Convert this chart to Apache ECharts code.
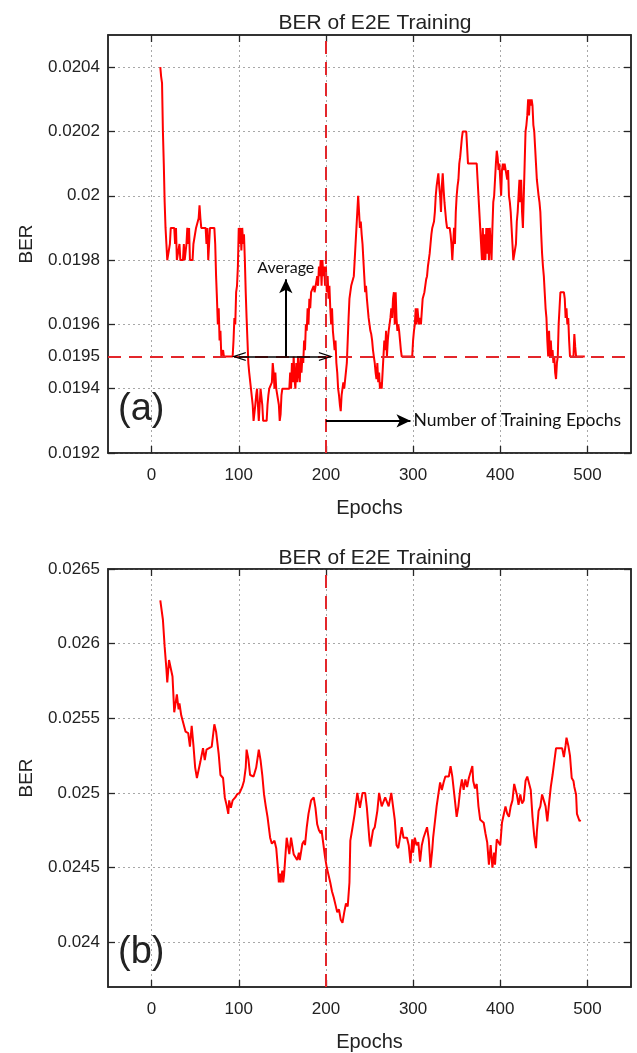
<!DOCTYPE html>
<html>
<head>
<meta charset="utf-8">
<script src="https://cdn.jsdelivr.net/npm/echarts@6/dist/echarts.min.js"></script>
<style>
html,body{margin:0;padding:0;background:#fff;}
#c{width:637px;height:1053px;}
</style>
</head>
<body>
<div id="c"></div>
<script>
// ---------- data ----------
var chartTitle = 'BER of E2E Training';
var xTicks = [0, 100, 200, 300, 400, 500];
var topYTicks = [0.0192, 0.0194, 0.0196, 0.0198, 0.02, 0.0202, 0.0204];
var topYLabels = [0.0192, 0.0194, 0.0195, 0.0196, 0.0198, 0.02, 0.0202, 0.0204];
var bottomYTicks = [0.024, 0.0245, 0.025, 0.0255, 0.026, 0.0265];

var averageBer = 0.0195;
var splitEpoch = 200;
var averageWindow = [100, 200];
var averageArrowEpoch = 154;
var averageArrowTip = 0.01974;
var trainArrowBer = 0.0193;
var trainArrowEnd = 297;

var topEpochs = [10,11,12,13,14,15,16,17,18,20,21,22,24,26,27,28,29,31,32,33,36,37,38,40,41,42,43,44,47,48,50,51,53,54,55,56,57,62,63,64,65,66,67,72,73,74,75,76,77,78,79,80,82,83,93,94,95,96,97,98,99,100,101,102,103,104,105,106,107,108,109,110,111,112,114,115,116,117,118,119,120,121,122,123,124,125,126,127,128,132,133,134,135,138,139,140,141,142,143,145,146,147,148,149,150,158,159,160,161,162,163,164,165,166,167,168,169,170,171,172,173,174,175,176,177,178,179,180,181,182,183,185,186,187,189,190,191,192,193,194,195,196,197,198,199,200,201,202,203,204,205,206,207,208,209,210,211,212,213,214,215,216,217,218,219,220,221,223,224,225,226,227,228,229,230,232,233,234,235,236,237,238,239,240,241,242,243,244,245,246,247,248,249,250,251,252,253,254,255,256,257,258,259,260,261,262,263,264,265,266,267,268,269,270,271,272,273,274,275,276,277,278,279,280,281,282,283,284,285,286,287,299,300,301,302,303,304,305,306,307,308,309,310,311,312,313,315,316,317,318,319,320,321,322,323,324,325,326,327,328,329,330,331,332,333,334,335,336,337,338,339,340,342,343,344,345,346,347,348,349,350,351,352,353,354,355,356,357,361,362,363,373,374,375,376,377,378,379,380,381,382,383,384,385,386,387,388,389,390,391,392,393,394,395,396,397,398,399,400,401,402,403,404,405,407,408,409,410,411,412,413,414,415,417,418,419,420,421,422,423,424,425,426,427,428,429,430,431,432,433,434,435,436,437,438,439,440,441,442,444,445,446,447,448,449,450,451,452,453,454,455,456,457,458,459,460,461,462,463,464,465,466,467,468,469,470,473,474,475,476,477,478,479,480,484,485,486,487,497];
var topBer = [0.02040,0.02037,0.02035,0.02020,0.02010,0.01998,0.01990,0.01985,0.01980,0.01980,0.01985,0.01990,0.01990,0.01990,0.01985,0.01990,0.01980,0.01980,0.01985,0.01980,0.01980,0.01985,0.01980,0.01985,0.01990,0.01985,0.01990,0.01980,0.01980,0.01985,0.01985,0.01990,0.01990,0.01993,0.01997,0.01993,0.01990,0.01990,0.01985,0.01990,0.01980,0.01985,0.01990,0.01990,0.01985,0.01975,0.01968,0.01960,0.01965,0.01955,0.01958,0.01950,0.01952,0.01950,0.01950,0.01955,0.01962,0.01960,0.01970,0.01972,0.01978,0.01990,0.01985,0.01990,0.01983,0.01990,0.01985,0.01988,0.01980,0.01970,0.01962,0.01955,0.01948,0.01945,0.01940,0.01940,0.01935,0.01930,0.01930,0.01935,0.01938,0.01940,0.01935,0.01930,0.01935,0.01940,0.01940,0.01935,0.01930,0.01930,0.01935,0.01938,0.01940,0.01942,0.01948,0.01945,0.01940,0.01945,0.01940,0.01940,0.01935,0.01930,0.01932,0.01938,0.01940,0.01940,0.01945,0.01940,0.01948,0.01942,0.01950,0.01943,0.01940,0.01948,0.01942,0.01950,0.01945,0.01942,0.01950,0.01945,0.01950,0.01948,0.01955,0.01952,0.01960,0.01958,0.01965,0.01960,0.01968,0.01965,0.01970,0.01970,0.01972,0.01970,0.01970,0.01975,0.01972,0.01978,0.01975,0.01980,0.01972,0.01980,0.01975,0.01978,0.01972,0.01978,0.01970,0.01975,0.01968,0.01972,0.01965,0.01960,0.01965,0.01958,0.01955,0.01952,0.01955,0.01948,0.01945,0.01940,0.01938,0.01935,0.01933,0.01938,0.01940,0.01942,0.01940,0.01940,0.01948,0.01955,0.01962,0.01968,0.01970,0.01972,0.01973,0.01975,0.01980,0.01985,0.01990,0.01995,0.02000,0.01995,0.01990,0.01992,0.01988,0.01985,0.01980,0.01975,0.01970,0.01972,0.01968,0.01965,0.01962,0.01960,0.01958,0.01957,0.01955,0.01952,0.01950,0.01948,0.01945,0.01943,0.01948,0.01942,0.01945,0.01940,0.01942,0.01940,0.01945,0.01950,0.01955,0.01952,0.01958,0.01950,0.01955,0.01958,0.01960,0.01962,0.01965,0.01962,0.01968,0.01970,0.01960,0.01970,0.01962,0.01958,0.01960,0.01958,0.01955,0.01952,0.01950,0.01950,0.01955,0.01958,0.01960,0.01965,0.01960,0.01965,0.01962,0.01960,0.01962,0.01960,0.01960,0.01968,0.01968,0.01970,0.01974,0.01975,0.01978,0.01980,0.01982,0.01985,0.01988,0.01990,0.01990,0.01992,0.01995,0.02000,0.02003,0.02005,0.02007,0.02003,0.02000,0.01995,0.02003,0.02007,0.02002,0.01998,0.01995,0.01992,0.01990,0.01990,0.01990,0.01988,0.01985,0.01980,0.01985,0.01990,0.01985,0.01995,0.02000,0.02003,0.02005,0.02010,0.02012,0.02015,0.02018,0.02020,0.02020,0.02015,0.02010,0.02010,0.02005,0.02000,0.01995,0.01990,0.01985,0.01980,0.01990,0.01980,0.01988,0.01980,0.01990,0.01982,0.01990,0.01980,0.01990,0.01985,0.01980,0.01990,0.01998,0.02000,0.02005,0.02010,0.02014,0.02012,0.02008,0.02010,0.02005,0.02000,0.02008,0.02010,0.02008,0.02010,0.02010,0.02005,0.02008,0.02000,0.01998,0.01995,0.01990,0.01985,0.01980,0.01980,0.01985,0.01992,0.01995,0.02000,0.02005,0.01998,0.02005,0.01995,0.01990,0.02000,0.02010,0.02020,0.02022,0.02025,0.02030,0.02025,0.02030,0.02028,0.02030,0.02028,0.02022,0.02020,0.02015,0.02010,0.02005,0.02000,0.01998,0.01995,0.01988,0.01982,0.01978,0.01975,0.01970,0.01965,0.01962,0.01955,0.01950,0.01958,0.01950,0.01955,0.01950,0.01952,0.01948,0.01950,0.01945,0.01943,0.01948,0.01950,0.01960,0.01965,0.01970,0.01970,0.01970,0.01968,0.01962,0.01965,0.01960,0.01962,0.01955,0.01950,0.01950,0.01957,0.01953,0.01950,0.01950];

var bottomEpochs = [10,13,15,17,18,20,22,24,26,29,31,32,34,36,39,42,44,46,48,50,52,54,56,59,61,63,65,69,72,74,77,79,82,84,86,88,89,91,93,96,98,101,104,106,108,109,111,113,117,120,123,125,127,129,131,133,136,138,141,143,145,146,147,148,150,151,152,154,155,157,158,160,163,165,167,169,170,173,175,176,178,180,183,186,188,190,192,194,195,197,199,201,203,205,207,209,211,213,215,217,219,221,223,225,227,228,230,233,236,239,242,245,247,250,251,254,256,259,261,264,268,272,275,277,279,281,283,287,289,293,295,297,299,300,302,304,306,308,310,312,316,318,320,322,323,327,331,333,335,337,341,343,345,348,350,352,354,356,358,360,362,364,366,368,369,371,373,375,377,381,383,385,387,389,391,393,394,396,398,400,402,404,406,408,410,412,414,416,418,419,421,423,425,427,429,431,433,435,437,439,441,442,444,446,448,450,452,454,456,458,460,462,464,471,473,475,476,478,480,482,484,485,487,488,490,491,492];
var bottomBer = [0.02629,0.02616,0.02598,0.02583,0.02574,0.02589,0.02590,0.02578,0.02554,0.02566,0.02556,0.02560,0.02552,0.02551,0.02541,0.02540,0.02531,0.02545,0.02532,0.02517,0.02510,0.02510,0.02521,0.02530,0.02522,0.02529,0.02530,0.02531,0.02546,0.02541,0.02526,0.02512,0.02510,0.02497,0.02492,0.02486,0.02495,0.02490,0.02495,0.02497,0.02499,0.02500,0.02504,0.02508,0.02517,0.02529,0.02523,0.02512,0.02511,0.02517,0.02529,0.02522,0.02512,0.02499,0.02491,0.02484,0.02470,0.02466,0.02468,0.02463,0.02449,0.02440,0.02446,0.02440,0.02448,0.02440,0.02445,0.02462,0.02470,0.02470,0.02459,0.02470,0.02459,0.02460,0.02455,0.02460,0.02455,0.02466,0.02468,0.02465,0.02477,0.02486,0.02495,0.02497,0.02490,0.02479,0.02475,0.02473,0.02475,0.02466,0.02457,0.02450,0.02445,0.02440,0.02434,0.02430,0.02425,0.02420,0.02422,0.02415,0.02413,0.02420,0.02426,0.02424,0.02440,0.02468,0.02475,0.02486,0.02500,0.02490,0.02500,0.02500,0.02490,0.02468,0.02464,0.02475,0.02477,0.02488,0.02500,0.02491,0.02497,0.02491,0.02500,0.02499,0.02482,0.02465,0.02463,0.02477,0.02470,0.02470,0.02465,0.02453,0.02469,0.02460,0.02470,0.02465,0.02467,0.02454,0.02465,0.02470,0.02477,0.02469,0.02450,0.02462,0.02470,0.02491,0.02507,0.02502,0.02507,0.02511,0.02511,0.02518,0.02511,0.02495,0.02484,0.02491,0.02502,0.02509,0.02502,0.02509,0.02504,0.02510,0.02510,0.02518,0.02508,0.02503,0.02506,0.02491,0.02482,0.02480,0.02473,0.02467,0.02452,0.02465,0.02450,0.02460,0.02452,0.02469,0.02470,0.02465,0.02480,0.02480,0.02491,0.02486,0.02484,0.02491,0.02495,0.02506,0.02506,0.02499,0.02492,0.02499,0.02493,0.02495,0.02508,0.02511,0.02510,0.02502,0.02484,0.02471,0.02463,0.02474,0.02488,0.02491,0.02499,0.02499,0.02491,0.02481,0.02493,0.02504,0.02512,0.02521,0.02530,0.02530,0.02524,0.02532,0.02537,0.02532,0.02525,0.02510,0.02508,0.02504,0.02499,0.02486,0.02487,0.02481,0.02482];

// ---------- styles ----------
var FRAME = '#262626';
var RED = '#ff0000';
var DASHRED = '#e3262b';
var TXT = '#222';
var FONT = '"Liberation Sans", Arial, sans-serif';
var ANNFONT = 'Lato, "Open Sans", sans-serif';

function pairs(xs, ys){ return xs.map(function(x,i){ return [x, ys[i]]; }); }

var grids = [
  {left:108, right:6, top:35, height:418, show:true, borderColor:FRAME, borderWidth:1.5},
  {left:108, right:6, top:569, height:422, show:true, borderColor:FRAME, borderWidth:1.5}
];

function xAx(grid, pos, name){
  var main = pos === 'bottom';
  return {
    type:'value', gridIndex:grid, position:pos, min:-50, max:550,
    name: main ? name : '', nameLocation:'middle', nameGap:45,
    nameTextStyle:{fontFamily:FONT, fontSize:20, color:TXT},
    axisLine:{show:true, onZero:false, lineStyle:{color:FRAME, width:1.5}},
    axisTick:{show:true, inside:true, length:7, customValues:xTicks, lineStyle:{color:FRAME, width:1.3}},
    axisLabel:{show:main, customValues:xTicks, margin:14, fontFamily:FONT, fontSize:17, color:TXT},
    splitLine:{show:main, lineStyle:{color:'#a8a8a8', type:[2,3], width:1}}
  };
}
function yAx(grid, pos, min, max, ticks, labels){
  var main = pos === 'left';
  return {
    type:'value', gridIndex:grid, position:pos, min:min, max:max,
    name: main ? 'BER' : '', nameLocation:'middle', nameGap:72,
    nameTextStyle:{fontFamily:FONT, fontSize:19, color:TXT},
    axisLine:{show:true, onZero:false, lineStyle:{color:FRAME, width:1.5}},
    axisTick:{show:true, inside:true, length:7, customValues:ticks, lineStyle:{color:FRAME, width:1.3}},
    axisLabel:{show:main, customValues:labels, margin:8, fontFamily:FONT, fontSize:17, color:TXT},
    splitLine:{show:main, lineStyle:{color:'#a8a8a8', type:[2,3], width:1}}
  };
}

var chevron = 'path://M0,10 L5,0 L10,10 L8.6,10 L5,2.8 L1.4,10 Z';

var option = {
  animation:false,
  backgroundColor:'#fff',
  title:[
    {text:chartTitle, left:370, top:8, textAlign:'center', textStyle:{fontFamily:FONT, fontSize:21, fontWeight:'normal', color:TXT}},
    {text:chartTitle, left:370, top:543, textAlign:'center', textStyle:{fontFamily:FONT, fontSize:21, fontWeight:'normal', color:TXT}},
    {text:'(a)', left:113, top:386, textStyle:{fontFamily:FONT, fontSize:38, fontWeight:'normal', color:TXT}},
    {text:'(b)', left:113, top:929, textStyle:{fontFamily:FONT, fontSize:38, fontWeight:'normal', color:TXT}}
  ],
  grid:grids,
  xAxis:[ xAx(0,'bottom','Epochs'), xAx(0,'top',''), xAx(1,'bottom','Epochs'), xAx(1,'top','') ],
  yAxis:[
    yAx(0,'left',0.0192,0.0205,topYTicks,topYLabels),
    yAx(0,'right',0.0192,0.0205,topYTicks,topYLabels),
    yAx(1,'left',0.0237,0.0265,bottomYTicks,bottomYTicks),
    yAx(1,'right',0.0237,0.0265,bottomYTicks,bottomYTicks)
  ],
  series:[
    {
      type:'line', xAxisIndex:0, yAxisIndex:0, data:pairs(topEpochs, topBer),
      showSymbol:false, symbol:'none', lineStyle:{color:RED, width:2}, z:3,
      markLine:{
        silent:true, animation:false, symbol:'none', z:4, precision:6,
        data:[
          {yAxis:averageBer, lineStyle:{color:DASHRED, type:[13,8], width:2}, label:{show:false}},
          {xAxis:splitEpoch, lineStyle:{color:DASHRED, type:[13,8], width:2}, label:{show:false}},
          [
            {coord:[averageWindow[0], averageBer], symbol:chevron, symbolSize:[9,14], lineStyle:{color:'#000', type:'solid', width:1.6}, label:{show:false}},
            {coord:[averageWindow[1], averageBer], symbol:chevron, symbolSize:[9,14]}
          ],
          [
            {coord:[averageArrowEpoch, averageBer], symbol:'none', lineStyle:{color:'#000', type:'solid', width:2},
             label:{show:true, position:'end', formatter:'Average', fontFamily:ANNFONT, fontSize:16, color:'#111', distance:4}},
            {coord:[averageArrowEpoch, averageArrowTip], symbol:'arrow', symbolSize:[10,14]}
          ],
          [
            {coord:[splitEpoch, trainArrowBer], symbol:'none', lineStyle:{color:'#000', type:'solid', width:2},
             label:{show:true, position:'end', formatter:'Number of Training Epochs', fontFamily:ANNFONT, fontSize:17.5, color:'#111', distance:3}},
            {coord:[trainArrowEnd, trainArrowBer], symbol:'arrow', symbolSize:[10,14]}
          ]
        ]
      }
    },
    {
      type:'line', xAxisIndex:2, yAxisIndex:2, data:pairs(bottomEpochs, bottomBer),
      showSymbol:false, symbol:'none', lineStyle:{color:RED, width:2}, z:3,
      markLine:{
        silent:true, animation:false, symbol:'none', z:4, precision:6,
        data:[
          {xAxis:splitEpoch, lineStyle:{color:DASHRED, type:[13,8], width:2}, label:{show:false}}
        ]
      }
    }
  ]
};

var chart = echarts.init(document.getElementById('c'), null, {renderer:'canvas'});
chart.setOption(option);
</script>
</body>
</html>
